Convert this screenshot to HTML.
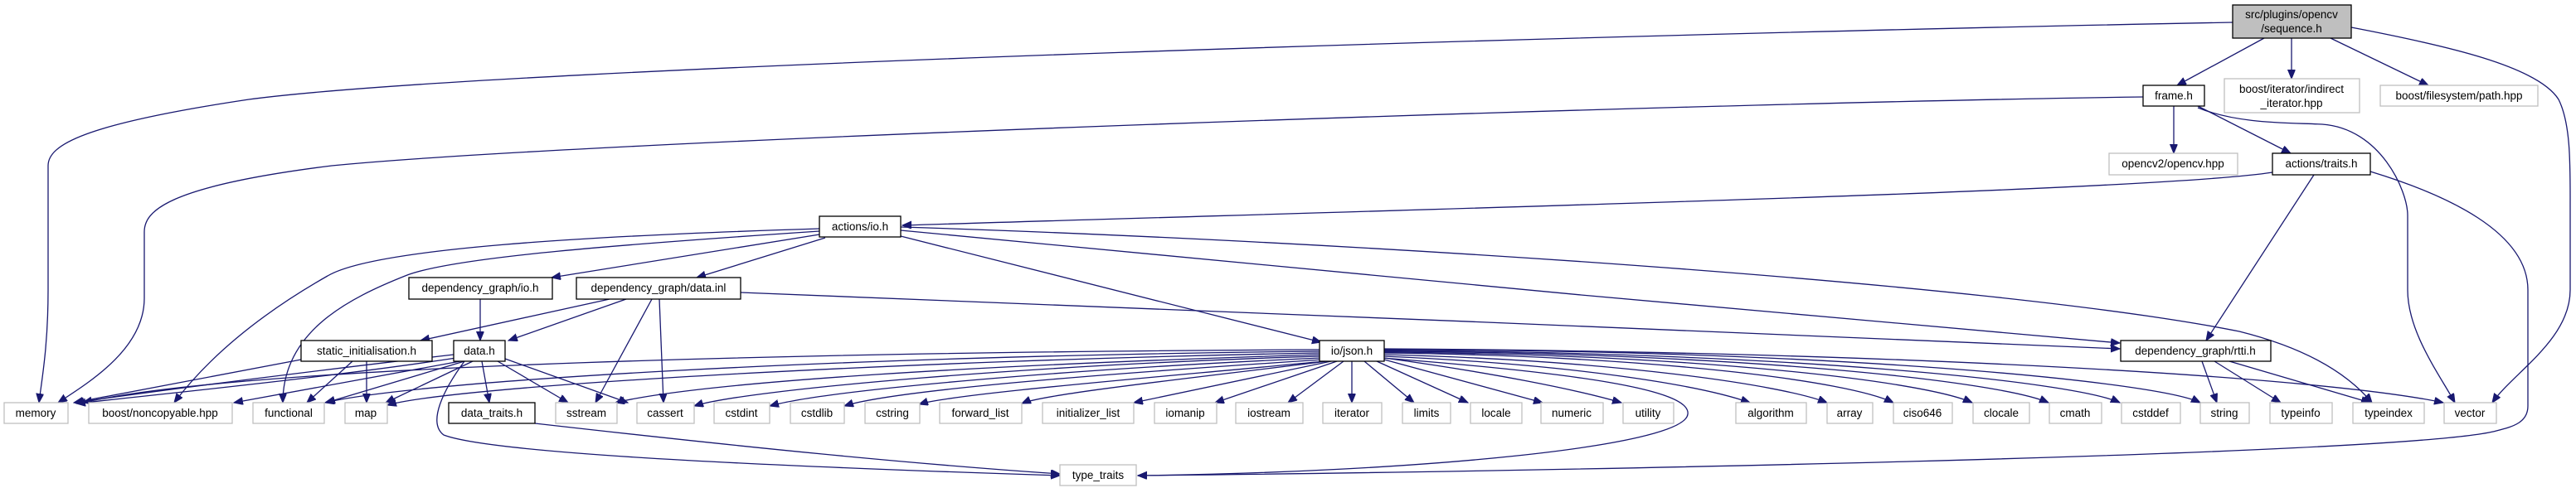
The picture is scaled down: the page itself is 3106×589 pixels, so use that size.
<!DOCTYPE html>
<html><head><meta charset="utf-8"><style>
html,body{margin:0;padding:0;background:#fff;}
svg{display:block;}
text{font-family:"Liberation Sans",sans-serif;font-size:13.5px;fill:#000;}
.e{fill:none;stroke:#191970;stroke-width:1.3;}
.g{fill:#fff;stroke:#bfbfbf;stroke-width:1.3;}
.b{fill:#fff;stroke:#000;stroke-width:1.3;}
</style></head><body>
<svg width="3106" height="589" viewBox="0 0 3106 589" xmlns="http://www.w3.org/2000/svg">
<defs><marker id="a" markerUnits="userSpaceOnUse" markerWidth="12" markerHeight="10" refX="11" refY="4.5" orient="auto"><path d="M0,0 L11,4.5 L0,9 z" fill="#191970" stroke="#191970"/></marker></defs>
<g marker-end="url(#a)">
<!-- sequence.h -->
<path class="e" d="M2692,27 C2000,40 600,80 300,120 C100,150 58,175 58,200 L58,350 C58,420 50,460 47,486"/>
<path class="e" d="M2730,46 L2625,103"/>
<path class="e" d="M2763,46 L2763,95"/>
<path class="e" d="M2810,46 L2928,103"/>
<path class="e" d="M2835,33 C2950,55 3060,80 3085,120 C3100,150 3099,200 3099,250 L3099,350 C3099,410 3030,450 3005,486"/>
<!-- frame.h -->
<path class="e" d="M2584,117 C2000,125 700,170 400,200 C200,225 174,255 174,280 L174,360 C174,420 110,460 70,486"/>
<path class="e" d="M2621,128 L2621,185"/>
<path class="e" d="M2650,128 L2762,185"/>
<path class="e" d="M2650,130 C2700,150 2760,148 2800,150 C2870,155 2903,230 2903,260 L2903,350 C2903,400 2940,450 2960,486"/>
<!-- actions/traits.h -->
<path class="e" d="M2740,208 C2600,230 1800,250 1088,272"/>
<path class="e" d="M2790,211 L2660,411"/>
<path class="e" d="M2858,207 C2950,235 3048,280 3048,350 L3048,490 C3048,510 3030,515 3010,520 C2900,550 1800,570 1372,574"/>
<!-- actions/io.h -->
<path class="e" d="M988,276 C700,285 450,300 395,333 C330,370 260,420 210,486"/>
<path class="e" d="M988,279 C750,295 550,310 491,332 C420,360 341,400 341,486"/>
<path class="e" d="M988,283 L665,335"/>
<path class="e" d="M995,287 L840,335"/>
<path class="e" d="M1086,285 L1593,413"/>
<path class="e" d="M1086,278 C1500,320 2100,374 2556,414"/>
<path class="e" d="M1086,274 C1600,290 2400,340 2700,400 C2780,420 2830,450 2860,486"/>
<!-- data.inl -->
<path class="e" d="M735,361 L507,411"/>
<path class="e" d="M755,361 L613,411"/>
<path class="e" d="M786,361 L718,486"/>
<path class="e" d="M795,361 L800,486"/>
<path class="e" d="M893,353 C1300,370 2100,400 2556,421"/>
<!-- dependency_graph/io.h -->
<path class="e" d="M579,361 L579,411"/>
<!-- static_initialisation.h -->
<path class="e" d="M363,434 C250,455 150,475 89,486"/>
<path class="e" d="M425,436 L370,486"/>
<path class="e" d="M442,436 L442,486"/>
<!-- data.h -->
<path class="e" d="M547,428 C400,445 200,470 90,486"/>
<path class="e" d="M550,432 C400,455 200,475 92,487"/>
<path class="e" d="M555,436 L282,486"/>
<path class="e" d="M560,436 L393,486"/>
<path class="e" d="M570,436 L465,486"/>
<path class="e" d="M581,436 L590,486"/>
<path class="e" d="M600,436 L685,486"/>
<path class="e" d="M609,433 L757,486"/>
<path class="e" d="M560,436 C535,470 515,510 535,525 C600,550 1000,565 1278,574"/>
<path class="e" d="M645,511 C900,540 1100,560 1278,572"/>
<!-- io/json.h -->
<path class="e" d="M1591,422 C1000,425 300,440 100,486"/>
<path class="e" d="M1591,424 C1000,430 500,460 392,486"/>
<path class="e" d="M1591,426 C1100,435 550,465 467,489"/>
<path class="e" d="M1591,428 C1200,440 850,460 742,486"/>
<path class="e" d="M1591,430 C1250,440 900,470 837,490"/>
<path class="e" d="M1593,432 C1300,445 1000,470 928,490"/>
<path class="e" d="M1595,434 C1350,450 1080,470 1018,490"/>
<path class="e" d="M1597,436 C1400,455 1150,475 1108,488"/>
<path class="e" d="M1600,436 C1450,455 1260,475 1232,487"/>
<path class="e" d="M1605,436 L1367,486"/>
<path class="e" d="M1612,436 L1465,486"/>
<path class="e" d="M1620,436 L1553,486"/>
<path class="e" d="M1630,436 L1630,486"/>
<path class="e" d="M1645,436 L1705,486"/>
<path class="e" d="M1660,436 L1770,486"/>
<path class="e" d="M1669,434 L1860,486"/>
<path class="e" d="M1669,432 C1800,450 1900,470 1955,486"/>
<path class="e" d="M1669,430 C1900,440 2050,465 2110,486"/>
<path class="e" d="M1669,428 C1950,435 2150,465 2203,486"/>
<path class="e" d="M1669,426 C2000,430 2230,460 2283,486"/>
<path class="e" d="M1669,425 C2050,428 2320,460 2378,486"/>
<path class="e" d="M1669,424 C2100,426 2410,460 2470,486"/>
<path class="e" d="M1669,423 C2150,425 2500,460 2556,486"/>
<path class="e" d="M1669,422 C2200,422 2600,460 2653,486"/>
<path class="e" d="M1669,421 C2300,425 2800,455 2946,486"/>
<path class="e" d="M1666,432 C1900,450 2040,470 2035,500 C2030,540 1700,570 1372,574"/>
<!-- rtti.h -->
<path class="e" d="M2655,436 L2673,486"/>
<path class="e" d="M2670,436 L2750,486"/>
<path class="e" d="M2688,436 L2858,486"/>
</g>
<!-- nodes -->
<rect x="2692" y="6" width="143" height="40" fill="#bfbfbf" stroke="#000" stroke-width="1.3"/>
<text x="2763" y="22" text-anchor="middle">src/plugins/opencv</text>
<text x="2763" y="39" text-anchor="middle">/sequence.h</text>
<rect class="b" x="2584" y="103" width="74" height="25"/><text x="2621" y="120" text-anchor="middle">frame.h</text>
<rect class="g" x="2682" y="95" width="163" height="41"/>
<text x="2763" y="112" text-anchor="middle">boost/iterator/indirect</text>
<text x="2763" y="129" text-anchor="middle">_iterator.hpp</text>
<rect class="g" x="2870" y="103" width="190" height="25"/><text x="2965" y="120" text-anchor="middle">boost/filesystem/path.hpp</text>
<rect class="g" x="2543" y="185" width="155" height="26"/><text x="2620" y="202" text-anchor="middle">opencv2/opencv.hpp</text>
<rect class="b" x="2740" y="185" width="118" height="26"/><text x="2799" y="202" text-anchor="middle">actions/traits.h</text>
<rect class="b" x="988" y="261" width="98" height="25"/><text x="1037" y="278" text-anchor="middle">actions/io.h</text>
<rect class="b" x="493" y="335" width="173" height="26"/><text x="579" y="352" text-anchor="middle">dependency_graph/io.h</text>
<rect class="b" x="695" y="335" width="198" height="26"/><text x="794" y="352" text-anchor="middle">dependency_graph/data.inl</text>
<rect class="b" x="363" y="411" width="158" height="25"/><text x="442" y="428" text-anchor="middle">static_initialisation.h</text>
<rect class="b" x="547" y="411" width="62" height="25"/><text x="578" y="428" text-anchor="middle">data.h</text>
<rect class="b" x="1591" y="411" width="78" height="25"/><text x="1630" y="428" text-anchor="middle">io/json.h</text>
<rect class="b" x="2557" y="411" width="181" height="25"/><text x="2647" y="428" text-anchor="middle">dependency_graph/rtti.h</text>
<rect class="b" x="541" y="486" width="104" height="25"/><text x="593" y="503" text-anchor="middle">data_traits.h</text>
<rect class="g" x="1278" y="561" width="92" height="25"/><text x="1324" y="578" text-anchor="middle">type_traits</text>
<g>
<rect class="g" x="5" y="486" width="77" height="25"/><text x="43" y="503" text-anchor="middle">memory</text>
<rect class="g" x="107" y="486" width="173" height="25"/><text x="193" y="503" text-anchor="middle">boost/noncopyable.hpp</text>
<rect class="g" x="305" y="486" width="86" height="25"/><text x="348" y="503" text-anchor="middle">functional</text>
<rect class="g" x="416" y="486" width="51" height="25"/><text x="441" y="503" text-anchor="middle">map</text>
<rect class="g" x="670" y="486" width="74" height="25"/><text x="707" y="503" text-anchor="middle">sstream</text>
<rect class="g" x="768" y="486" width="69" height="25"/><text x="802" y="503" text-anchor="middle">cassert</text>
<rect class="g" x="861" y="486" width="67" height="25"/><text x="894" y="503" text-anchor="middle">cstdint</text>
<rect class="g" x="953" y="486" width="65" height="25"/><text x="985" y="503" text-anchor="middle">cstdlib</text>
<rect class="g" x="1043" y="486" width="66" height="25"/><text x="1076" y="503" text-anchor="middle">cstring</text>
<rect class="g" x="1133" y="486" width="99" height="25"/><text x="1182" y="503" text-anchor="middle">forward_list</text>
<rect class="g" x="1257" y="486" width="110" height="25"/><text x="1312" y="503" text-anchor="middle">initializer_list</text>
<rect class="g" x="1392" y="486" width="75" height="25"/><text x="1429" y="503" text-anchor="middle">iomanip</text>
<rect class="g" x="1490" y="486" width="81" height="25"/><text x="1530" y="503" text-anchor="middle">iostream</text>
<rect class="g" x="1595" y="486" width="71" height="25"/><text x="1630" y="503" text-anchor="middle">iterator</text>
<rect class="g" x="1691" y="486" width="58" height="25"/><text x="1720" y="503" text-anchor="middle">limits</text>
<rect class="g" x="1773" y="486" width="62" height="25"/><text x="1804" y="503" text-anchor="middle">locale</text>
<rect class="g" x="1858" y="486" width="75" height="25"/><text x="1895" y="503" text-anchor="middle">numeric</text>
<rect class="g" x="1957" y="486" width="61" height="25"/><text x="1987" y="503" text-anchor="middle">utility</text>
<rect class="g" x="2093" y="486" width="85" height="25"/><text x="2135" y="503" text-anchor="middle">algorithm</text>
<rect class="g" x="2203" y="486" width="55" height="25"/><text x="2230" y="503" text-anchor="middle">array</text>
<rect class="g" x="2283" y="486" width="71" height="25"/><text x="2318" y="503" text-anchor="middle">ciso646</text>
<rect class="g" x="2379" y="486" width="68" height="25"/><text x="2413" y="503" text-anchor="middle">clocale</text>
<rect class="g" x="2471" y="486" width="63" height="25"/><text x="2502" y="503" text-anchor="middle">cmath</text>
<rect class="g" x="2558" y="486" width="71" height="25"/><text x="2593" y="503" text-anchor="middle">cstddef</text>
<rect class="g" x="2653" y="486" width="59" height="25"/><text x="2682" y="503" text-anchor="middle">string</text>
<rect class="g" x="2737" y="486" width="75" height="25"/><text x="2774" y="503" text-anchor="middle">typeinfo</text>
<rect class="g" x="2837" y="486" width="86" height="25"/><text x="2880" y="503" text-anchor="middle">typeindex</text>
<rect class="g" x="2947" y="486" width="63" height="25"/><text x="2978" y="503" text-anchor="middle">vector</text>
</g>
</svg>
</body></html>
